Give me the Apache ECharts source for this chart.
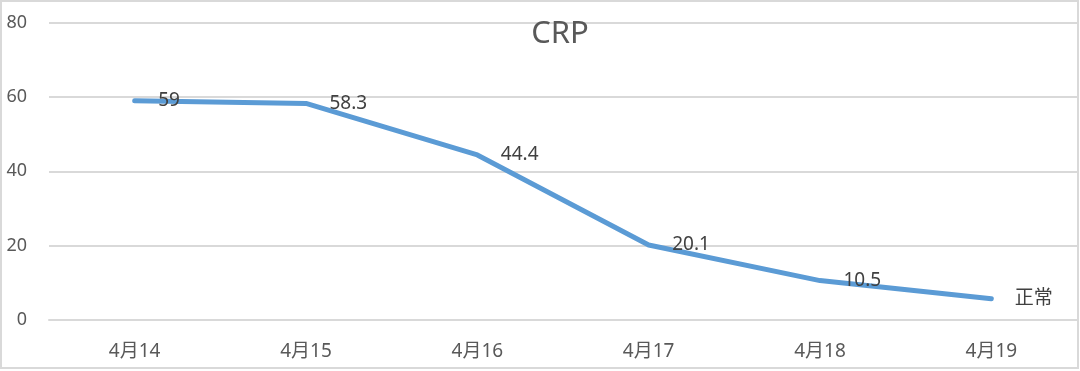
<!DOCTYPE html>
<html>
<head>
<meta charset="utf-8">
<script src="https://cdn.jsdelivr.net/npm/echarts@6/dist/echarts.min.js"></script>
<style>
html,body{margin:0;padding:0;background:#fff;}
#c{width:1080px;height:371px;}
</style>
</head>
<body>
<div id="c"></div>
<script>
var categories = ['4月14', '4月15', '4月16', '4月17', '4月18', '4月19'];
var crpValues = [59, 58.3, 44.4, 20.1, 10.5, 5.6];
var pointLabels = ['59', '58.3', '44.4', '20.1', '10.5', '正常'];
var yTicks = [0, 20, 40, 60, 80];

var chart = echarts.init(document.getElementById('c'));
var font = '"Noto Sans", "Noto Sans CJK SC", sans-serif';
chart.setOption({
  animation: false,
  backgroundColor: '#fff',
  title: {
    text: 'CRP',
    left: 555, top: 14, textAlign: 'center',
    textStyle: { fontFamily: font, fontSize: 31, fontWeight: 'normal', color: '#595959' }
  },
  graphic: [{
    type: 'rect', silent: true, z: -1,
    shape: { x: 1, y: 1, width: 1077, height: 367 },
    style: { fill: 'none', stroke: '#d9d9d9', lineWidth: 2 }
  }],
  grid: { left: 49, right: 3, top: 23, bottom: 51.5 },
  xAxis: {
    type: 'category',
    data: categories,
    boundaryGap: true,
    axisTick: { show: false },
    axisLine: { show: true, lineStyle: { color: '#d9d9d9', width: 2 } },
    axisLabel: { fontFamily: font, fontSize: 19, color: '#595959', margin: 23 }
  },
  yAxis: {
    type: 'value',
    min: yTicks[0], max: yTicks[yTicks.length - 1], interval: 20,
    axisLine: { show: false },
    axisTick: { show: false },
    splitLine: { lineStyle: { color: '#d9d9d9', width: 2 } },
    axisLabel: { fontFamily: font, fontSize: 18, color: '#595959', margin: 22 }
  },
  series: [{
    type: 'line',
    data: crpValues,
    symbol: 'circle',
    symbolSize: 1,
    showSymbol: true,
    itemStyle: { color: '#5B9BD5' },
    lineStyle: { color: '#5B9BD5', width: 5, cap: 'round', join: 'round' },
    label: {
      show: true,
      position: 'right',
      distance: 23,
      fontFamily: font,
      fontSize: 19,
      color: '#404040',
      formatter: function (p) { return pointLabels[p.dataIndex]; }
    }
  }]
});
</script>
</body>
</html>
